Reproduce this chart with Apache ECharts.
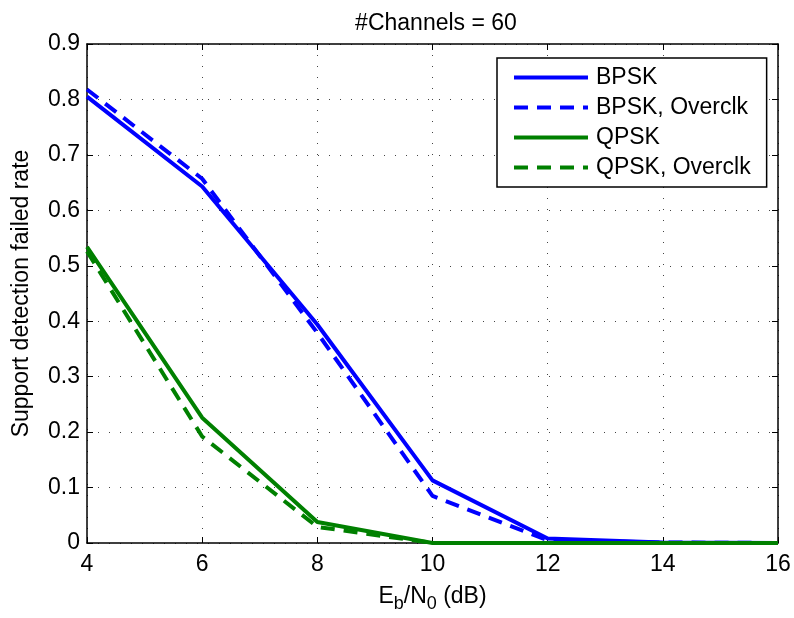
<!DOCTYPE html>
<html>
<head>
<meta charset="utf-8">
<script src="https://cdn.jsdelivr.net/npm/echarts@6/dist/echarts.min.js"></script>
<style>html,body{margin:0;padding:0;background:#fff}#c{width:794px;height:618px}</style>
</head>
<body>
<div id="c"></div>
<script>
const ebn0 = [4, 6, 8, 10, 12, 14, 16];
const bpsk = [0.805, 0.643, 0.394, 0.113, 0.008, 0.001, 0];
const bpskOver = [0.818, 0.657, 0.379, 0.085, 0.005, 0.001, 0];
const qpsk = [0.534, 0.226, 0.038, 0, 0, 0, 0];
const qpskOver = [0.526, 0.192, 0.029, 0, 0, 0, 0];
const seriesNames = ['BPSK', 'BPSK, Overclk', 'QPSK', 'QPSK, Overclk'];
const xTicks = [4, 6, 8, 10, 12, 14, 16];
const yTicks = [0, 0.1, 0.2, 0.3, 0.4, 0.5, 0.6, 0.7, 0.8, 0.9];

const FONT = 'Liberation Sans, Arial, sans-serif';
const FS = 23;
const pair = (xs, ys) => xs.map((x, i) => [x, ys[i]]);
const mk = (name, data, color, dashed) => ({
  name, type: 'line', data, symbol: 'none', showSymbol: false,
  lineStyle: { color, width: 4, type: dashed ? [14, 9] : 'solid', cap: 'butt' },
  itemStyle: { color },
  z: 5
});

const chart = echarts.init(document.getElementById('c'), null, { renderer: 'canvas' });
const gridLine = { show: true, lineStyle: { color: '#444', width: 1, type: [1, 10] } };
chart.setOption({
  animation: false,
  title: {
    text: '#Channels = 60', left: 431, top: 7, textAlign: 'center',
    textStyle: { fontFamily: FONT, fontSize: FS, fontWeight: 'normal', color: '#000' }
  },
  grid: { left: 87, right: 16, top: 44, bottom: 74 },
  legend: {
    data: seriesNames, orient: 'vertical', left: 497, top: 58,
    backgroundColor: '#fff', borderColor: '#000', borderWidth: 1.5,
    padding: [8, 16, 8, 15], itemWidth: 74, itemHeight: 14, itemGap: 7,
    textStyle: { fontFamily: FONT, fontSize: FS, color: '#000', padding: [0, 0, 0, 3] },
    lineStyle: { width: 4 },
    itemStyle: { opacity: 0 }
  },
  xAxis: [{
    type: 'value', min: 4, max: 16, interval: 2,
    name: '{n|E}{s|b}{n|/N}{s|0}{n| (dB)}', nameLocation: 'middle', nameGap: 38,
    nameTextStyle: { rich: {
      n: { fontFamily: FONT, fontSize: FS, color: '#000' },
      s: { fontFamily: FONT, fontSize: 18, color: '#000', verticalAlign: 'bottom', padding: [14, 0, 0, 0] }
    } },
    axisLine: { show: true, onZero: false, lineStyle: { color: '#000', width: 1.5 } },
    axisTick: { show: true, inside: true, length: 6, lineStyle: { color: '#000' } },
    axisLabel: { fontFamily: FONT, fontSize: FS, color: '#000', margin: 10 },
    splitLine: gridLine
  }, {
    type: 'value', min: 4, max: 16, interval: 2, position: 'top',
    axisLine: { show: true, onZero: false, lineStyle: { color: '#000', width: 1.5 } },
    axisTick: { show: true, inside: true, length: 6, lineStyle: { color: '#000' } },
    axisLabel: { show: false }, splitLine: { show: false }
  }],
  yAxis: [{
    type: 'value', min: 0, max: 0.9, interval: 0.1,
    name: 'Support detection failed rate', nameLocation: 'middle', nameGap: 54,
    nameTextStyle: { fontFamily: FONT, fontSize: FS, color: '#000' },
    axisLine: { show: true, onZero: false, lineStyle: { color: '#000', width: 1.5 } },
    axisTick: { show: true, inside: true, length: 6, lineStyle: { color: '#000' } },
    axisLabel: { fontFamily: FONT, fontSize: FS, color: '#000', margin: 7,
      formatter: v => String(Math.round(v * 10) / 10) },
    splitLine: gridLine
  }, {
    type: 'value', min: 0, max: 0.9, interval: 0.1, position: 'right',
    axisLine: { show: true, onZero: false, lineStyle: { color: '#000', width: 1.5 } },
    axisTick: { show: true, inside: true, length: 6, lineStyle: { color: '#000' } },
    axisLabel: { show: false }, splitLine: { show: false }
  }],
  series: [
    mk(seriesNames[0], pair(ebn0, bpsk), '#0000ff', false),
    mk(seriesNames[1], pair(ebn0, bpskOver), '#0000ff', true),
    mk(seriesNames[2], pair(ebn0, qpsk), '#008000', false),
    mk(seriesNames[3], pair(ebn0, qpskOver), '#008000', true)
  ]
});
</script>
</body>
</html>
